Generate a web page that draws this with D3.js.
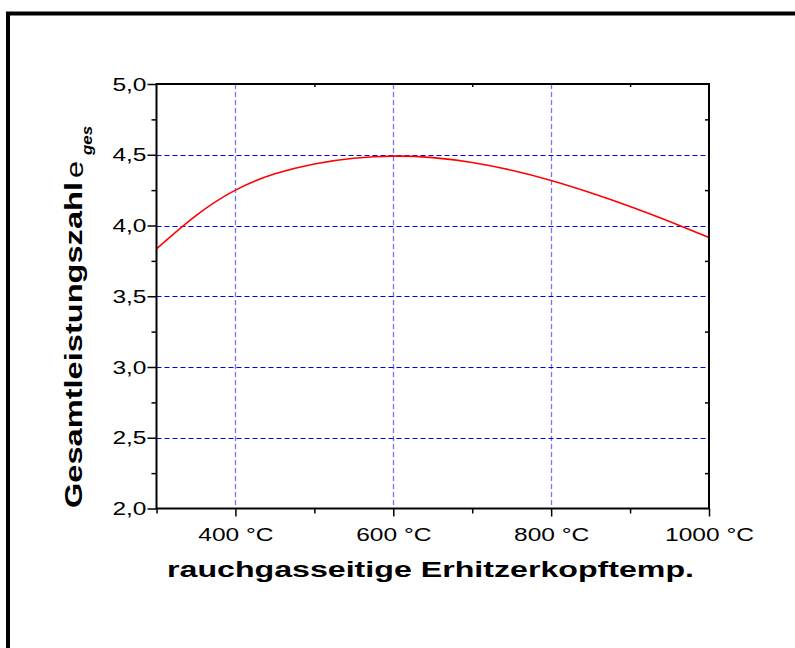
<!DOCTYPE html>
<html>
<head>
<meta charset="utf-8">
<script src="https://cdn.jsdelivr.net/npm/d3@7"></script>
<style>
  html, body { margin: 0; padding: 0; background: #fff; }
  svg { display: block; }
  text { font-family: Arial, "Liberation Sans", Helvetica, sans-serif; }
</style>
</head>
<body>
<svg id="chart" width="795" height="648"></svg>
<script>
// Flue-gas side heater head temperature (°C) vs. overall coefficient of performance
const temperatures = [300, 350, 400, 450, 500, 550, 600, 650, 700, 750, 800, 850, 900, 950, 1000];
const eGes         = [3.835, 4.07, 4.25, 4.365, 4.435, 4.475, 4.49, 4.48, 4.445, 4.39, 4.318, 4.231, 4.134, 4.028, 3.915];

const xMajorTicks = [400, 600, 800, 1000];
const xMinorTicks = [300, 500, 700, 900];
const yMajorTicks = [2.0, 2.5, 3.0, 3.5, 4.0, 4.5, 5.0];
const yMinorTicks = [2.25, 2.75, 3.25, 3.75, 4.25, 4.75];
const xGrid = [400, 600, 800];
const yGrid = [2.5, 3.0, 3.5, 4.0, 4.5];

const xTitle = "rauchgasseitige Erhitzerkopftemp.";
const yTitle = "Gesamtleistungszahl";
const yTitleSymbol = "e";
const yTitleIndex = "ges";

const svg = d3.select("#chart");
const W = 795, H = 648;
const plot = { left: 156.5, right: 709, top: 84, bottom: 508.5 };

const de = d3.formatLocale({ decimal: ",", thousands: ".", grouping: [3], currency: ["", " €"] });
const fmtY = de.format(".1f");

const x = d3.scaleLinear().domain([300, 1000]).range([plot.left, plot.right]);
const y = d3.scaleLinear().domain([2, 5]).range([plot.bottom, plot.top]);

// widen a text element along its baseline
function widen(sel, factor) {
  sel.each(function () {
    const len = this.getComputedTextLength();
    if (len > 0) {
      d3.select(this).attr("textLength", len * factor).attr("lengthAdjust", "spacingAndGlyphs");
    }
  });
}

// outer frame (right and bottom edges lie outside the canvas)
svg.append("rect")
  .attr("x", 8).attr("y", 13.5)
  .attr("width", W + 20).attr("height", H + 20)
  .attr("fill", "none").attr("stroke", "#000").attr("stroke-width", 4);

// grid
const grid = svg.append("g");
grid.selectAll("line.gx").data(xGrid).join("line")
  .attr("x1", d => Math.round(x(d)) + 0.5).attr("x2", d => Math.round(x(d)) + 0.5)
  .attr("y1", plot.top).attr("y2", plot.bottom)
  .attr("stroke", "#0000ff").attr("stroke-opacity", 0.55).attr("stroke-width", 1.3)
  .attr("stroke-dasharray", "5,3");
grid.selectAll("line.gy").data(yGrid).join("line")
  .attr("y1", d => Math.round(y(d)) + 0.5).attr("y2", d => Math.round(y(d)) + 0.5)
  .attr("x1", plot.left).attr("x2", plot.right)
  .attr("stroke", "#0000ff").attr("stroke-width", 1)
  .attr("stroke-dasharray", "5,3");

// curve
const line = d3.line()
  .x((d, i) => x(temperatures[i]))
  .y(d => y(d))
  .curve(d3.curveNatural);
svg.append("path")
  .datum(eGes)
  .attr("d", line)
  .attr("fill", "none").attr("stroke", "#ff0000").attr("stroke-width", 1.6);

// axes
function styleAxis(g) {
  g.select(".domain").remove();
  g.selectAll(".tick line").attr("stroke", "#000").attr("stroke-width", 1.5);
  g.selectAll(".tick text").attr("font-size", 19).attr("fill", "#000")
    .attr("font-family", "Arial, 'Liberation Sans', sans-serif");
}

// left
const leftAxis = svg.append("g").attr("transform", `translate(${plot.left},0)`)
  .call(d3.axisLeft(y).tickValues(yMajorTicks).tickFormat(fmtY).tickSize(9).tickPadding(1))
  .call(styleAxis);
widen(leftAxis.selectAll(".tick text"), 1.29);
svg.append("g").attr("transform", `translate(${plot.left},0)`)
  .call(d3.axisLeft(y).tickValues(yMinorTicks).tickFormat("").tickSize(5))
  .call(styleAxis);

// right (inward ticks)
svg.append("g").attr("transform", `translate(${plot.right},0)`)
  .call(d3.axisLeft(y).tickValues(yMinorTicks).tickFormat("").tickSize(4))
  .call(styleAxis);

// bottom
const bottomAxis = svg.append("g").attr("transform", `translate(0,${plot.bottom})`)
  .call(d3.axisBottom(x).tickValues(xMajorTicks).tickFormat(d => d + " °C").tickSize(8).tickPadding(11))
  .call(styleAxis);
widen(bottomAxis.selectAll(".tick text"), 1.29);
svg.append("g").attr("transform", `translate(0,${plot.bottom})`)
  .call(d3.axisBottom(x).tickValues(xMinorTicks).tickFormat("").tickSize(5))
  .call(styleAxis);

// top (inward ticks)
svg.append("g").attr("transform", `translate(0,${plot.top})`)
  .call(d3.axisBottom(x).tickValues(xMinorTicks.slice(1)).tickFormat("").tickSize(3))
  .call(styleAxis);

// plot border
svg.append("rect")
  .attr("x", plot.left).attr("y", plot.top)
  .attr("width", plot.right - plot.left).attr("height", plot.bottom - plot.top)
  .attr("fill", "none").attr("stroke", "#000").attr("stroke-width", 2);

// x title
svg.append("text")
  .attr("x", 430.5).attr("y", 577)
  .attr("text-anchor", "middle")
  .attr("font-size", 22).attr("font-weight", "bold")
  .attr("textLength", 527).attr("lengthAdjust", "spacingAndGlyphs")
  .text(xTitle);

// y title: bold name, symbol e with bold-italic index
svg.append("text")
  .attr("transform", "translate(82,508) rotate(-90)")
  .attr("font-size", 23).attr("font-weight", "bold")
  .attr("textLength", 326).attr("lengthAdjust", "spacingAndGlyphs")
  .text(yTitle);
svg.append("text")
  .attr("transform", "translate(82.5,178) rotate(-90)")
  .attr("font-size", 23)
  .attr("textLength", 17).attr("lengthAdjust", "spacingAndGlyphs")
  .text(yTitleSymbol);
svg.append("text")
  .attr("transform", "translate(92,155) rotate(-90)")
  .attr("font-size", 15).attr("font-weight", "bold").attr("font-style", "italic")
  .attr("textLength", 29).attr("lengthAdjust", "spacingAndGlyphs")
  .text(yTitleIndex);
</script>
</body>
</html>
